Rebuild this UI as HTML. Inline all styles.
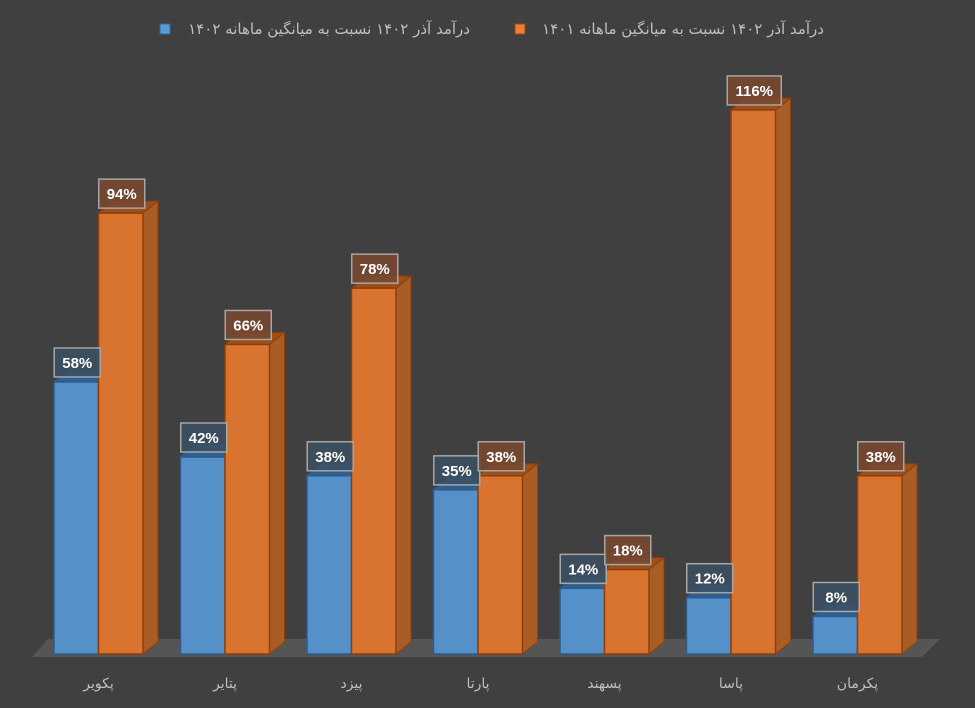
<!DOCTYPE html>
<html><head><meta charset="utf-8"><style>
html,body{margin:0;padding:0;background:#404040;}
svg{display:block;}
.leg{position:absolute;top:18px;height:22px;font-family:'DejaVu Sans','Noto Sans CJK SC',sans-serif;font-size:15px;color:#bfbfbf;direction:rtl;white-space:nowrap;line-height:22px;}
</style></head><body>
<div style="position:relative;width:975px;height:708px;">
<svg id="chart" width="975" height="708" xmlns="http://www.w3.org/2000/svg" font-family="'Liberation Sans','DejaVu Sans',sans-serif">
<rect x="0" y="0" width="975" height="708" fill="#404040"/>
<polygon points="32,657 922,657 940,639 48,639" fill="#555555"/>
<rect x="160" y="24" width="10" height="10" fill="#5b9bd5" stroke="#2e6aa0"/>
<rect x="515" y="24" width="10" height="10" fill="#ed7d31" stroke="#9c4a10"/>
<g id="bars"></g>
<g id="labels"></g>
</svg>
<div class="leg" style="right:505px;">درآمد آذر ۱۴۰۲ نسبت به میانگین ماهانه ۱۴۰۲</div>
<div class="leg" style="right:151px;">درآمد آذر ۱۴۰۲ نسبت به میانگین ماهانه ۱۴۰۱</div>
</div>
<script>
const categories = ["پکویر","پتایر","پیزد","پارتا","پسهند","پاسا","پکرمان"];
const blueValues = [58,42,38,35,14,12,8];
const orangeValues = [94,66,78,38,18,116,38];

const baseY = 654, pxPer = 4.69;
const firstX = 54, groupStep = 126.5, barW = 44.5, dx = 15, dy = 12;
function yScale(v){ return baseY - v*pxPer; }
function xScale(i){ return firstX + i*groupStep; }
const NS = "http://www.w3.org/2000/svg";
const bars = document.getElementById('bars');
const labels = document.getElementById('labels');
function mk(tag, attrs, parent){
  const e = document.createElementNS(NS, tag);
  for (const k in attrs) e.setAttribute(k, attrs[k]);
  parent.appendChild(e); return e;
}
function drawBar(x, v, front, side, top, stroke, name, boxFill, g){
  const y = yScale(v);
  const grp = mk('g', {}, g);
  
  
  mk('polygon', {points:`${x+barW},${y} ${x+barW+dx},${y-dy} ${x+barW+dx},${baseY-dy} ${x+barW},${baseY}`, fill:side, stroke:stroke, 'stroke-width':1}, grp);
  mk('polygon', {points:`${x},${y} ${x+dx},${y-dy} ${x+barW+dx},${y-dy} ${x+barW},${y}`, fill:top, stroke:stroke, 'stroke-width':1}, grp);
  mk('rect', {x:x, y:y, width:barW, height:baseY-y, fill:front, stroke:stroke, 'stroke-width':1.5}, grp);
  const txt = v + '%';
  const w = txt.length > 3 ? 54 : 46;
  const cx = x + barW/2 + 1;
  const lg = mk('g', {}, labels);
  
  
  mk('rect', {x:cx-w/2, y:y-34, width:w, height:29, fill:boxFill, stroke:'#a6a6a6', 'stroke-width':1.5}, lg);
  const t = mk('text', {x:cx, y:y-14, 'font-size':15, 'font-weight':'bold', fill:'#ffffff', 'text-anchor':'middle'}, lg);
  t.textContent = txt;
}
categories.forEach((c,i)=>{
  const x = xScale(i);
  drawBar(x, blueValues[i], '#5690c8', '#3f73a8', '#2f5f8e', '#2a5d8f', 'bar-blue-'+(i+1), 'rgba(60,80,100,0.85)', bars);
  drawBar(x+barW, orangeValues[i], '#d97430', '#aa5c25', '#9c4f1a', '#8c3f0c', 'bar-orange-'+(i+1), 'rgba(120,72,48,0.9)', bars);
  const t = mk('text', {x:x+barW, y:688, 'font-size':14, fill:'#bfbfbf', 'text-anchor':'middle', 'font-family':"'DejaVu Sans',sans-serif"}, labels);
  
  
  t.textContent = c;
});
</script>
</body></html>
